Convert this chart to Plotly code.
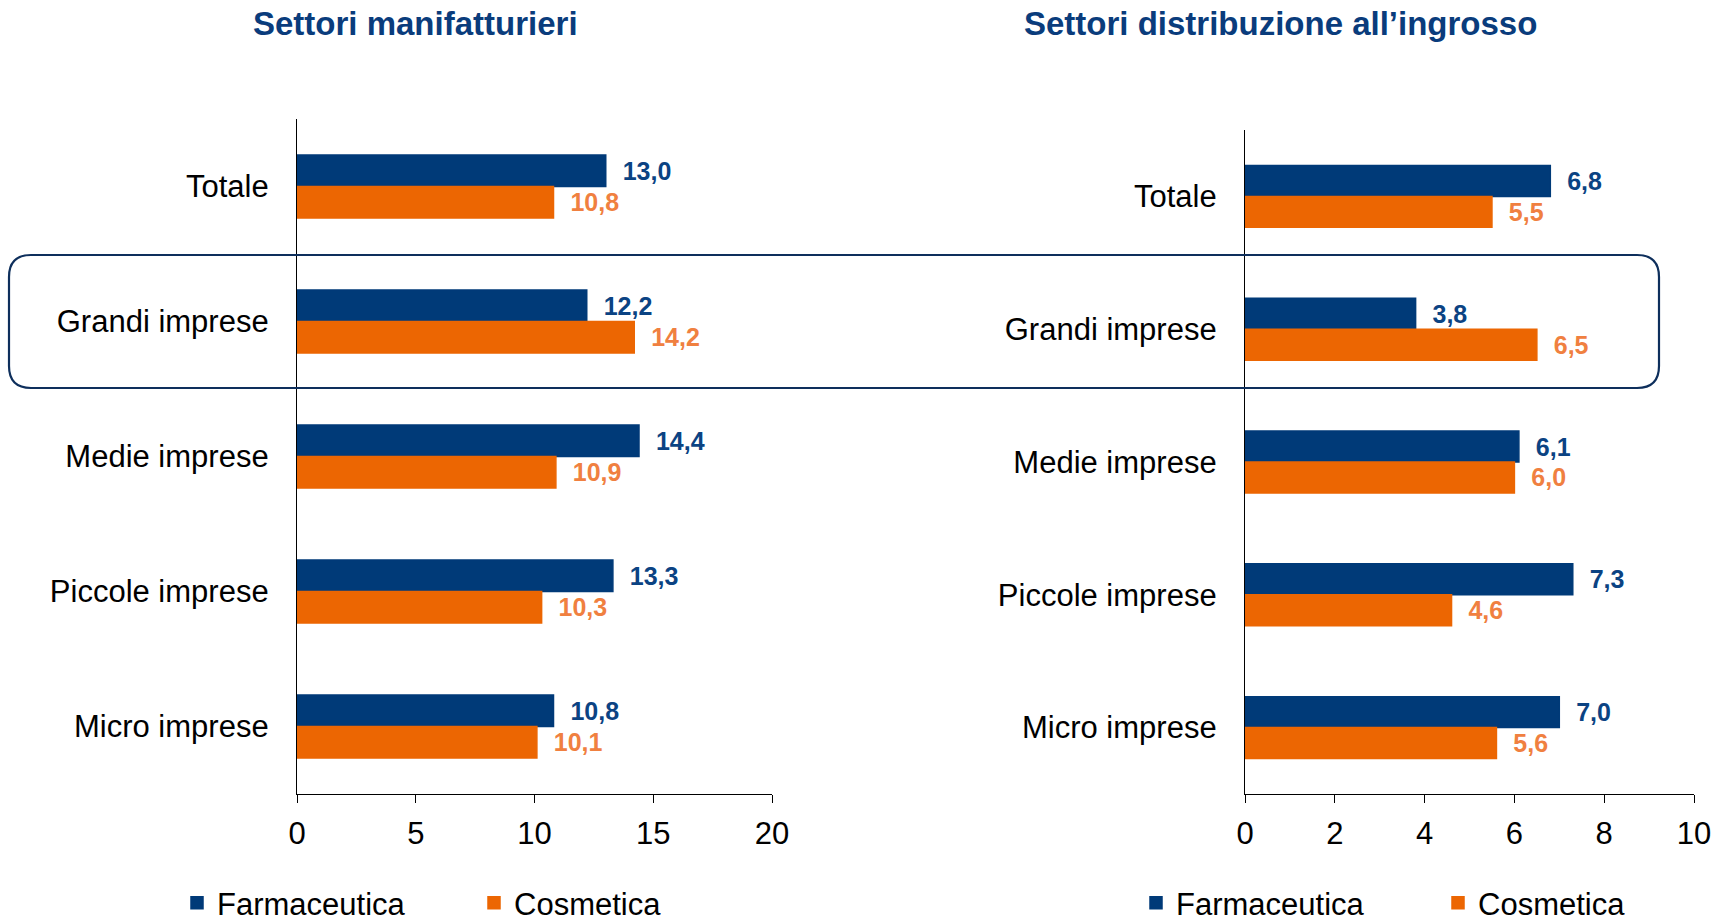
import plotly.graph_objects as go

# ---------------- data ----------------
categories = ["Totale", "Grandi imprese", "Medie imprese", "Piccole imprese", "Micro imprese"]
series_names = ["Farmaceutica", "Cosmetica"]
manif_farma = [13.0, 12.2, 14.4, 13.3, 10.8]
manif_cosm = [10.8, 14.2, 10.9, 10.3, 10.1]
ingr_farma = [6.8, 3.8, 6.1, 7.3, 7.0]
ingr_cosm = [5.5, 6.5, 6.0, 4.6, 5.6]
titles = ["Settori manifatturieri", "Settori distribuzione all\u2019ingrosso"]
x_ticks_left = [0, 5, 10, 15, 20]
x_ticks_right = [0, 2, 4, 6, 8, 10]

# ---------------- style ----------------
W, H = 1725, 922
BLUE = "#003A78"
ORANGE = "#EC6602"
BLUE_LBL = "#0B4383"
ORANGE_LBL = "#F08040"
TITLE_COL = "#0A3C7C"
BOX_COL = "#0E2F5C"
FONT = "Liberation Sans, Arial, sans-serif"


def px(x):
    return x / W


def py(y):
    return 1 - y / H


fig = go.Figure()


def add_bars(xvals, name, color, lblcolor, xa, ya, legend, lw):
    fig.add_trace(go.Bar(
        y=categories, x=xvals, orientation="h", name=name,
        marker=dict(color=color, line=dict(width=1.5, color=color)),
        texttemplate="\u00a0\u00a0%{x:.1f}", textposition="outside",
        textfont=dict(family=FONT, size=25, color=lblcolor, weight="bold"),
        constraintext="none", cliponaxis=False,
        xaxis=xa, yaxis=ya, legend=legend, legendwidth=lw, hoverinfo="skip",
    ))


add_bars(manif_farma, series_names[0], BLUE, BLUE_LBL, "x", "y", "legend", 252)
add_bars(manif_cosm, series_names[1], ORANGE, ORANGE_LBL, "x", "y", "legend", 150)
add_bars(ingr_farma, series_names[0], BLUE, BLUE_LBL, "x2", "y2", "legend2", 257)
add_bars(ingr_cosm, series_names[1], ORANGE, ORANGE_LBL, "x2", "y2", "legend2", 150)

xcommon = dict(showline=True, linecolor="black", linewidth=1.3, ticks="outside",
               ticklen=8, tickwidth=1.3, tickcolor="black", showgrid=False,
               zeroline=False, tickfont=dict(family=FONT, size=31, color="black"),
               ticklabelstandoff=4, fixedrange=True)
ycommon = dict(showline=True, linecolor="black", linewidth=1.3, ticks="",
               showgrid=False, zeroline=False, autorange="reversed",
               tickfont=dict(family=FONT, size=31, color="black"),
               ticklabelstandoff=21, fixedrange=True, type="category")

fig.update_layout(
    width=W, height=H,
    margin=dict(l=0, r=0, t=0, b=0, autoexpand=False),
    paper_bgcolor="white", plot_bgcolor="white",
    separators=",.",
    barmode="group", bargap=0.534, bargroupgap=0,
    showlegend=True,
    xaxis=dict(xcommon, domain=[px(297), px(772)], range=[0, 20],
               tickvals=x_ticks_left, anchor="y"),
    yaxis=dict(ycommon, domain=[py(794), py(119)], anchor="x"),
    xaxis2=dict(xcommon, domain=[px(1245), px(1694)], range=[0, 10],
                tickvals=x_ticks_right, anchor="y2"),
    yaxis2=dict(ycommon, domain=[py(794), py(130)], anchor="x2"),
    legend=dict(orientation="h", x=px(177), xanchor="left", y=py(903),
                yanchor="middle", font=dict(family=FONT, size=31, color="black"),
                itemwidth=30, bgcolor="rgba(0,0,0,0)", traceorder="normal"),
    legend2=dict(orientation="h", x=px(1136), xanchor="left", y=py(903),
                 yanchor="middle", font=dict(family=FONT, size=31, color="black"),
                 itemwidth=30, bgcolor="rgba(0,0,0,0)", traceorder="normal"),
)

# subplot titles
for t, cx in zip(titles, [415, 1280]):
    fig.add_annotation(text=t, x=px(cx), y=py(24), xref="paper", yref="paper",
                       xanchor="center", yanchor="middle", showarrow=False,
                       font=dict(family=FONT, size=33, color=TITLE_COL, weight="bold"))

# rounded highlight box around "Grandi imprese"
x0, y0, x1, y1, r = 9, 255, 1659, 388, 22
pts = [
    ("M", [(x0 + r, y0)]), ("L", [(x1 - r, y0)]), ("Q", [(x1, y0), (x1, y0 + r)]),
    ("L", [(x1, y1 - r)]), ("Q", [(x1, y1), (x1 - r, y1)]), ("L", [(x0 + r, y1)]),
    ("Q", [(x0, y1), (x0, y1 - r)]), ("L", [(x0, y0 + r)]), ("Q", [(x0, y0), (x0 + r, y0)]),
]
path = " ".join(c + " " + " ".join(f"{px(a):.5f},{py(b):.5f}" for a, b in p) for c, p in pts) + " Z"
fig.add_shape(type="path", path=path, xref="paper", yref="paper",
              line=dict(color=BOX_COL, width=2.2), layer="above")

fig.write_html("out.html", config={"displayModeBar": False},
               post_script="document.body.style.margin='0';document.body.style.overflow='hidden';")
